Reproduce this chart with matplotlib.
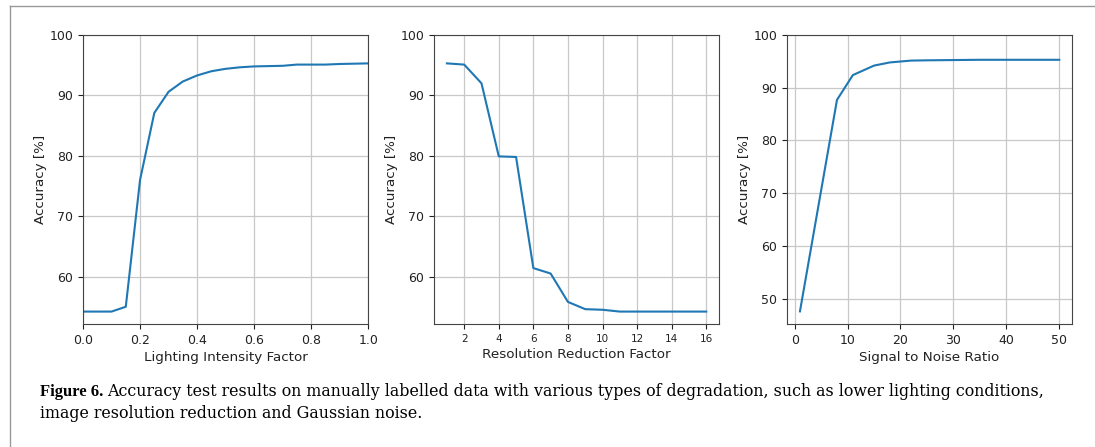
import numpy as np
import matplotlib.pyplot as plt
from matplotlib.lines import Line2D

# Данные
light_x = [0.0, 0.05, 0.1, 0.15, 0.2, 0.25, 0.3, 0.35, 0.4, 0.45, 0.5,
           0.55, 0.6, 0.65, 0.7, 0.75, 0.8, 0.85, 0.9, 0.95, 1.0]
light_acc = [54.2, 54.2, 54.2, 55.0, 76.0, 87.1, 90.6, 92.3, 93.3, 94.0, 94.4,
             94.65, 94.8, 94.85, 94.9, 95.1, 95.1, 95.1, 95.2, 95.25, 95.3]

res_x = [1, 2, 3, 4, 5, 6, 7, 8, 9, 10, 11, 12, 13, 14, 15, 16]
res_acc = [95.3, 95.1, 92.0, 79.9, 79.8, 61.4, 60.5, 55.8, 54.6, 54.5, 54.2,
           54.2, 54.2, 54.2, 54.2, 54.2]

snr_x = [1, 8, 11, 15, 18, 22, 25, 30, 35, 40, 45, 50]
snr_acc = [47.6, 87.7, 92.4, 94.2, 94.8, 95.15, 95.2, 95.25, 95.3, 95.3, 95.3, 95.3]

xlabels = ['Lighting Intensity Factor', 'Resolution Reduction Factor', 'Signal to Noise Ratio']

fig = plt.figure(figsize=(10.95, 4.47), dpi=100)

lefts = [0.0758, 0.3963, 0.7187]
width = 0.2605
bottom = 0.2752
height = 0.6465

series = [(light_x, light_acc), (res_x, res_acc), (snr_x, snr_acc)]
for i, (x, y) in enumerate(series):
    ax = fig.add_axes([lefts[i], bottom, width, height])
    ax.plot(x, y, color='#1f77b4', linewidth=1.5)
    ax.set_ylim(top=100)
    ax.grid(True, color='#c8c8c8', linewidth=0.9)
    ax.set_axisbelow(True)
    ax.set_xlabel(xlabels[i], fontsize=9.7, color='#222222', labelpad=3)
    ax.set_ylabel('Accuracy [%]', fontsize=9.7, color='#222222', labelpad=2)
    ax.tick_params(labelsize=9, colors='#222222')
    for s in ax.spines.values():
        s.set_color('#444444')
    if i == 0:
        ax.set_xlim(0, 1)
    if i == 1:
        ax.set_xticks([2, 4, 6, 8, 10, 12, 14, 16])
        ax.tick_params(axis='x', labelsize=7.5)
    if i == 2:
        ax.set_xticks([0, 10, 20, 30, 40, 50])

# рамка страницы
fig.add_artist(Line2D([10 / 1095, 10 / 1095], [0, 1 - 6 / 447], color='#999999', linewidth=1))
fig.add_artist(Line2D([10 / 1095, 1], [1 - 6 / 447, 1 - 6 / 447], color='#999999', linewidth=1))

# подпись к рисунку
t = fig.text(40 / 1095, 1 - 392 / 447, 'Figure 6.', fontsize=12, fontweight='bold',
             family='Liberation Serif', va='center', ha='left')
fig.canvas.draw()
bb = t.get_window_extent()
fig.text((bb.x1 + 4) / 1095, 1 - 392 / 447,
         'Accuracy test results on manually labelled data with various types of degradation, '
         'such as lower lighting conditions,',
         fontsize=11.4, family='DejaVu Serif', va='center', ha='left')
fig.text(40 / 1095, 1 - 413 / 447, 'image resolution reduction and Gaussian noise.',
         fontsize=11.4, family='DejaVu Serif', va='center', ha='left')

fig.savefig('out.png', dpi=100)
